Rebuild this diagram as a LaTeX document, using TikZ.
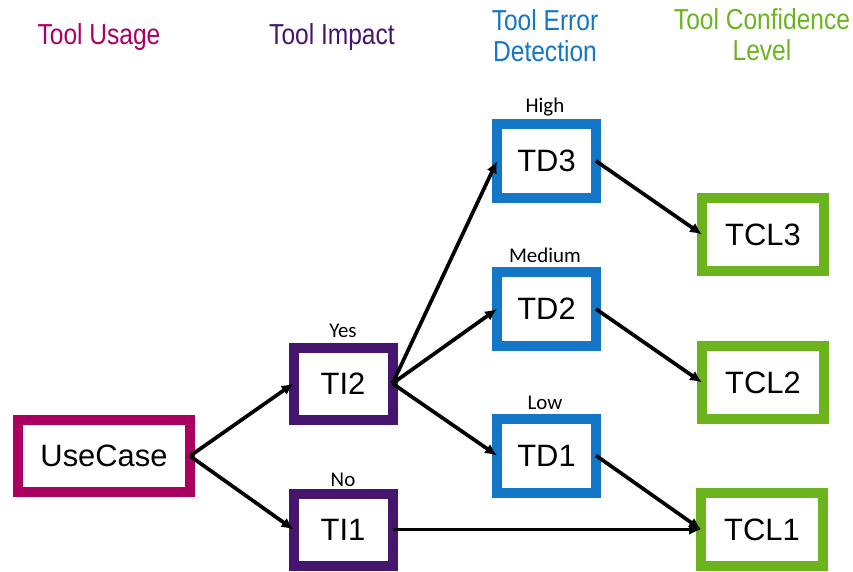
\documentclass[tikz,border=0pt]{standalone}
\usepackage{fontspec}
\setmainfont{Liberation Sans}
\newfontfamily\labelfont{Carlito}
\usetikzlibrary{arrows.meta}
\definecolor{usage}{HTML}{A90062}
\definecolor{impact}{HTML}{46166E}
\definecolor{detect}{HTML}{1376C6}
\definecolor{confid}{HTML}{6BB41E}
\newcommand{\hdr}[1]{\scalebox{0.85}[1]{#1}}
\begin{document}
\begin{tikzpicture}[x=1bp,y=-1bp,
  box/.style={draw, line width=10bp, fill=white, inner sep=0pt, outer sep=0pt,
    minimum height=72bp, font=\fontsize{31}{35}\selectfont},
  uc/.style={box, draw=usage, minimum width=172bp},
  ti/.style={box, draw=impact, minimum width=99bp},
  td/.style={box, draw=detect, minimum width=99bp, minimum height=74bp},
  tcl/.style={box, draw=confid, minimum width=122bp, minimum height=73bp},
  head/.style={align=center, font=\fontsize{29}{32}\selectfont},
  lbl/.style={font=\labelfont\fontsize{21}{24}\selectfont},
  arr/.style={-{Latex[length=12bp,width=11bp]}, line width=3.7bp, black}]
\useasboundingbox (0,0) rectangle (853,572);

% column headings
\node[head, text=usage]  (hU) at (99,37)   {\hdr{Tool Usage}};
\node[head, text=impact] (hI) at (332,37)  {\hdr{Tool Impact}};
\node[head, text=detect] (hD) at (545,36)  {\hdr{Tool Error}\\[-1pt]\hdr{Detection}};
\node[head, text=confid] (hC) at (762,35)  {\hdr{Tool Confidence}\\[-1pt]\hdr{Level}};

% boxes
\node[uc]  (uc)   at (104,456)   {UseCase};
\node[ti]  (ti2)  at (343,383.5) {TI2};
\node[ti]  (ti1)  at (343,529.5) {TI1};
\node[td]  (td3)  at (546.5,161) {TD3};
\node[td]  (td2)  at (546.5,309) {TD2};
\node[td]  (td1)  at (546.5,455.5) {TD1};
\node[tcl] (tcl3) at (763,234.5) {TCL3};
\node[tcl] (tcl2) at (763,382.5) {TCL2};
\node[tcl] (tcl1) at (762,529.5) {TCL1};

% branch labels
\node[lbl] (lY) at (343,331) {Yes};
\node[lbl] (lN) at (343,480) {No};
\node[lbl] (lH) at (545,107) {High};
\node[lbl] (lM) at (545,255) {Medium};
\node[lbl] (lL) at (545,403) {Low};

% connectors
\draw[arr] (uc.east) -- (ti2.west);
\draw[arr] (uc.east) -- (ti1.west);
\draw[arr] (ti2.east) -- (td3.west);
\draw[arr] (ti2.east) -- (td2.west);
\draw[arr] (ti2.east) -- (td1.west);
\draw[arr] (td3.east) -- (tcl3.west);
\draw[arr] (td2.east) -- (tcl2.west);
\draw[arr] (td1.east) -- (tcl1.west);
\draw[arr] (ti1.east) -- (tcl1.west);
\end{tikzpicture}
\end{document}
